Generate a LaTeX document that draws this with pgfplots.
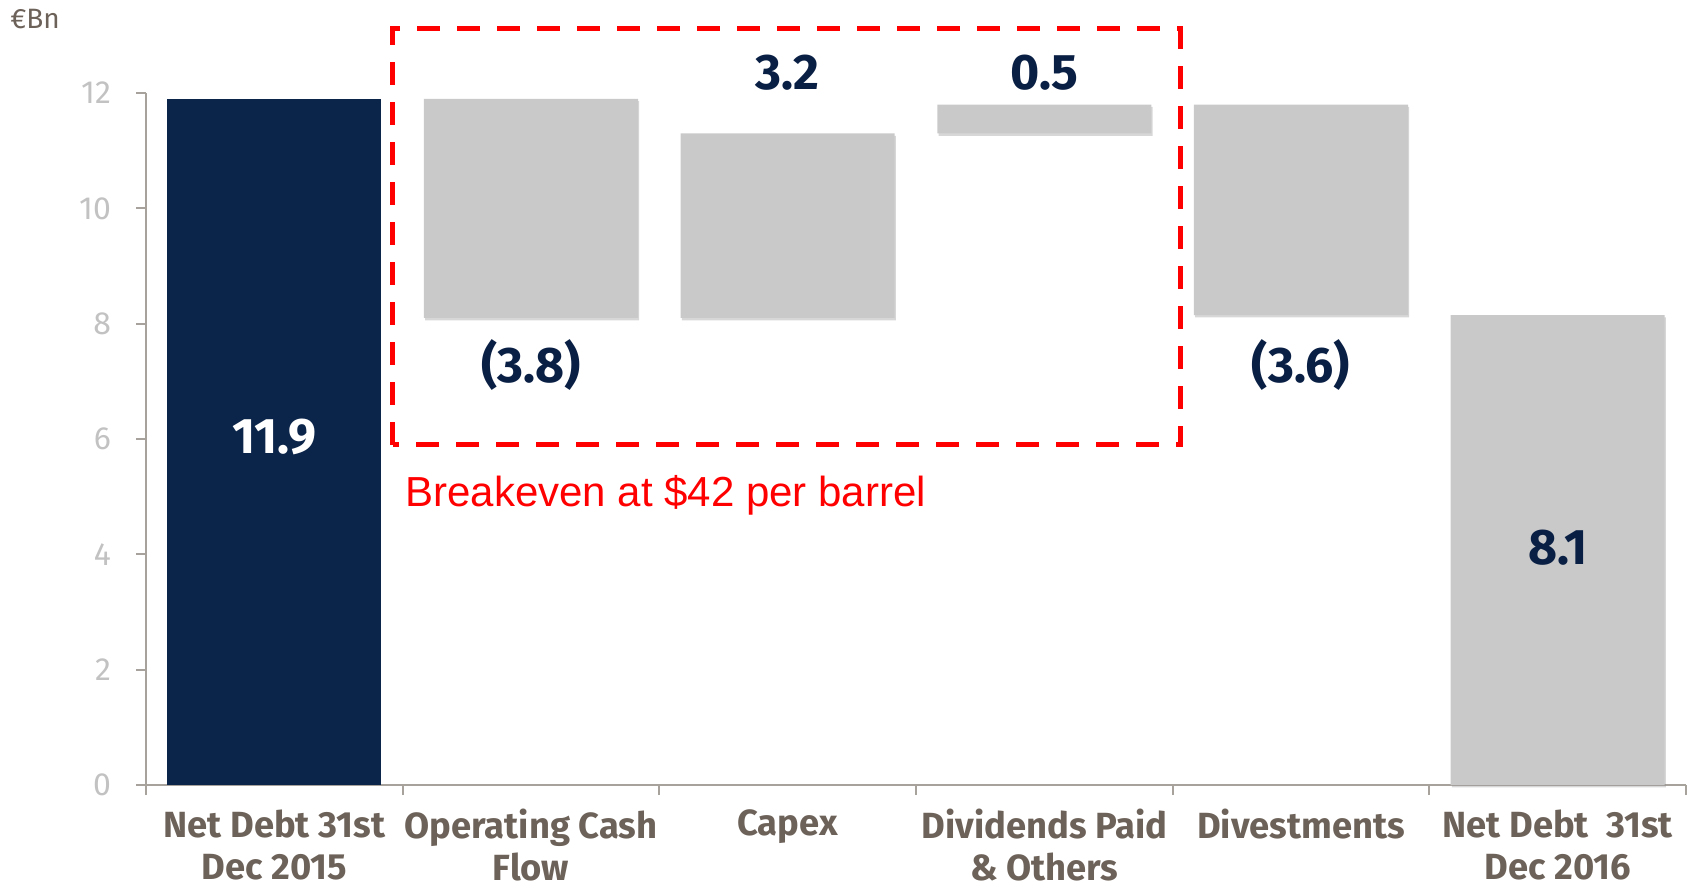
\documentclass[border=0pt]{standalone}
\usepackage{fontspec}
\setmainfont{Fira Sans}
\newfontfamily\arialfont{Liberation Sans}
\usepackage{pgfplots}
\pgfplotsset{compat=1.18}
\usetikzlibrary{shadows}
\definecolor{navy}{HTML}{0B2449}
\definecolor{barg}{HTML}{C9C9C9}
\definecolor{labn}{HTML}{0A1F44}
\definecolor{catc}{HTML}{6D6259}
\definecolor{tickc}{HTML}{C2C2C2}
\definecolor{axc}{HTML}{A8A29D}
\begin{document}
\begin{tikzpicture}
\useasboundingbox (-73pt,-52.5pt) rectangle (774pt,392.5pt);
\begin{axis}[
  at={(0,0)}, anchor=south west,
  scale only axis, width=770pt, height=346pt,
  ybar stacked, bar width=0.834,
  xmin=-0.5, xmax=5.5, ymin=0, ymax=12,
  axis x line=bottom, axis y line=left,
  axis line style={-, draw=axc, line width=1.2pt},
  ytick={0,2,...,12},
  xtick={-0.5,0.5,...,5.5}, xticklabels={},
  extra x ticks={0,1,2,3,4,5},
  extra x tick labels={Net Debt 31st\\Dec 2015, Operating Cash\\Flow, Capex, Dividends Paid\\\& Others, Divestments, Net Debt\ \ 31st\\Dec 2016},
  extra x tick style={major tick length=0pt},
  tick style={draw=axc, line width=1pt},
  tick align=outside,
  major tick length=5pt,
  yticklabel style={font=\fontsize{16}{16}\selectfont, text=tickc, xshift=-9pt},
  xticklabel style={font=\bfseries\fontsize{18.2}{21}\selectfont, text=catc, align=center, inner sep=0pt, yshift=-12pt},
  /pgf/number format/assume math mode=true,
  clip=false,
]
\addplot[fill=none, draw=none] coordinates {(0,0) (1,8.1) (2,8.1) (3,11.3) (4,8.15) (5,0)};
\addplot[fill=navy, draw=none] coordinates {(0,11.9) (1,0) (2,0) (3,0) (4,0) (5,0)};
\addplot[fill=barg, draw=none, drop shadow={shadow xshift=0.6pt, shadow yshift=-1.2pt, opacity=0.35, fill=black!45}] coordinates {(0,0) (1,3.8) (2,3.2) (3,0.5) (4,3.65) (5,8.15)};

\draw[red, line width=2.5pt, dash pattern=on 11.5pt off 8.5pt] (axis cs:0.462,5.9) rectangle (axis cs:3.529,13.11);
\node[anchor=west, text=red, font=\arialfont\fontsize{21}{21}\selectfont, inner sep=0pt] at (axis cs:0.509,5.03) {Breakeven at \$42 per barrel};
\coordinate (l0) at (axis cs:0,6.03);
\coordinate (l1) at (axis cs:1,7.28);
\coordinate (l2) at (axis cs:2,12.36);
\coordinate (l3) at (axis cs:3,12.36);
\coordinate (l4) at (axis cs:4,7.28);
\coordinate (l5) at (axis cs:5,4.12);
\node[font=\fontsize{14}{14}\selectfont, text=catc] at (axis description cs:-0.072,1.107) {€Bn};
\end{axis}
\begin{scope}[every node/.style={font=\bfseries\fontsize{25}{25}\selectfont, text=labn}]
\node[text=white] at (l0) {11.9};
\node at (l1) {(3.8)};
\node at (l2) {3.2};
\node at (l3) {0.5};
\node at (l4) {(3.6)};
\node at (l5) {8.1};
\end{scope}
\end{tikzpicture}
\end{document}
